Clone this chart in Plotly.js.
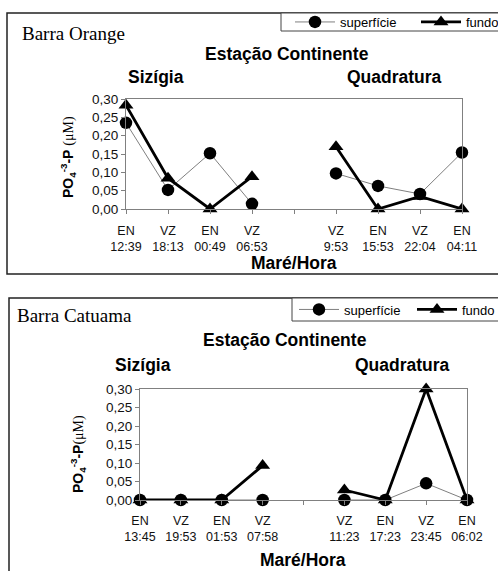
<!DOCTYPE html>
<html>
<head>
<meta charset="utf-8">
<script src="https://cdn.plot.ly/plotly-3.0.1.min.js"></script>
<style>html,body{margin:0;padding:0;background:#fff;}#chart{width:498px;height:571px;}</style>
</head>
<body>
<div id="chart"></div>
<script>
// ---- data ----
const topTicks = ['EN<br>12:39','VZ<br>18:13','EN<br>00:49','VZ<br>06:53','','VZ<br>9:53','EN<br>15:53','VZ<br>22:04','EN<br>04:11'];
const topSuperficie = [0.235, 0.052, 0.152, 0.014, null, 0.097, 0.063, 0.041, 0.154];
const topFundo      = [0.283, 0.084, 0.000, 0.088, null, 0.170, 0.000, 0.034, 0.000];

const botTicks = ['EN<br>13:45','VZ<br>19:53','EN<br>01:53','VZ<br>07:58','','VZ<br>11:23','EN<br>17:23','VZ<br>23:45','EN<br>06:02'];
const botSuperficie = [0, 0, 0, 0, null, 0, 0, 0.045, 0];
const botFundo      = [0, 0, 0, 0.093, null, 0.027, 0, 0.300, 0];

const seriesNames = ['superfície', 'fundo'];
const yTicks = [0, 0.05, 0.10, 0.15, 0.20, 0.25, 0.30];

// ---- helpers ----
const W = 498, H = 571;
const px = v => v / W;
const py = v => 1 - v / H;
const idx = arr => arr.map((_, i) => i);

function supTrace(x, y, xa, ya, leg) {
  return {x, y, xaxis: xa, yaxis: ya, legend: leg, name: seriesNames[0], type: 'scatter', mode: 'lines+markers',
    cliponaxis: false, connectgaps: false,
    line: {color: '#7f7f7f', width: 1},
    marker: {symbol: 'circle', size: 12.5, color: '#000'}};
}
function funTrace(x, y, xa, ya, leg) {
  return {x, y, xaxis: xa, yaxis: ya, legend: leg, name: seriesNames[1], type: 'scatter', mode: 'lines+markers',
    cliponaxis: false, connectgaps: false,
    line: {color: '#000', width: 2.8},
    marker: {symbol: 'triangle-up', size: 13, color: '#000'}};
}

const data = [
  supTrace(idx(topTicks), topSuperficie, 'x', 'y', 'legend'),
  funTrace(idx(topTicks), topFundo, 'x', 'y', 'legend'),
  supTrace(idx(botTicks), botSuperficie, 'x2', 'y2', 'legend2'),
  funTrace(idx(botTicks), botFundo, 'x2', 'y2', 'legend2')
];

function xAxis(domain, ticks, anchor, standoff) {
  return {domain, anchor, range: [0, ticks.length - 1], tickvals: idx(ticks), ticktext: ticks,
    showgrid: false, zeroline: false, showline: true, mirror: true, linecolor: '#808080', linewidth: 1,
    ticks: 'outside', ticklen: 4, tickcolor: '#808080', ticklabelstandoff: standoff,
    tickfont: {family: 'Arial, Liberation Sans, sans-serif', size: 12.5, color: '#111'}, fixedrange: true};
}
function yAxis(domain, anchor) {
  return {domain, anchor, range: [0, 0.30], tickvals: yTicks, tickformat: '.2f',
    showgrid: false, zeroline: false, showline: true, mirror: true, linecolor: '#808080', linewidth: 1,
    ticks: 'outside', ticklen: 4, tickcolor: '#808080',
    tickfont: {family: 'Arial, Liberation Sans, sans-serif', size: 13.5, color: '#111'}, fixedrange: true};
}

const bold = 'Arial, Liberation Sans, sans-serif';
function ann(text, x, y, size, opts) {
  return Object.assign({text, xref: 'paper', yref: 'paper', x: px(x), y: py(y), xanchor: 'center', yanchor: 'middle',
    showarrow: false, font: {family: bold, size, color: '#000'}}, opts || {});
}
const yTitleTop = '<b>PO</b><b><sub>4</sub></b><b><sup>-3</sup></b><b>-P</b> <span style="font-family:Liberation Serif">(μM)</span>';
const yTitleBot = '<b>PO</b><b><sub>4</sub></b><b><sup>-3</sup></b><b>-P</b><span style="font-family:Liberation Serif">(μM)</span>';

const annotations = [
  ann('Barra Orange', 20, 34, 19, {xanchor: 'left', font: {family: 'Liberation Serif, serif', size: 19, color: '#000'}}),
  ann('<b>Estação Continente</b>', 287, 54, 17.5),
  ann('<b>Sizígia</b>', 156, 77, 17.5),
  ann('<b>Quadratura</b>', 394, 77, 17.5),
  ann('<b>Maré/Hora</b>', 294, 263, 17.5),
  ann(yTitleTop, 68, 157, 14, {textangle: -90}),
  ann('Barra Catuama', 15, 315, 19, {xanchor: 'left', font: {family: 'Liberation Serif, serif', size: 19, color: '#000'}}),
  ann('<b>Estação Continente</b>', 285, 340, 17.5),
  ann('<b>Sizígia</b>', 143, 365, 17.5),
  ann('<b>Quadratura</b>', 402, 365, 17.5),
  ann('<b>Maré/Hora</b>', 303, 560, 17.5),
  ann(yTitleBot, 78, 454, 14, {textangle: -90})
];

const shapes = [
  {type: 'rect', xref: 'paper', yref: 'paper', x0: px(7), x1: px(520), y0: py(274), y1: py(13), line: {color: '#222', width: 1.5}},
  {type: 'rect', xref: 'paper', yref: 'paper', x0: px(9), x1: px(520), y0: py(620), y1: py(298), line: {color: '#222', width: 1.5}},
  // legend frames
  {type: 'rect', xref: 'paper', yref: 'paper', x0: px(281), x1: px(520), y0: py(31), y1: py(13), fillcolor: '#fff', layer: 'above', line: {color: '#444', width: 1}},
  {type: 'rect', xref: 'paper', yref: 'paper', x0: px(292), x1: px(520), y0: py(321), y1: py(298), fillcolor: '#fff', layer: 'above', line: {color: '#444', width: 1}}
];

function legendCfg(x, y, ew) {
  return {orientation: 'h', x: px(x), y: py(y), xanchor: 'left', yanchor: 'middle', bgcolor: 'rgba(0,0,0,0)',
    borderwidth: 0, itemwidth: 40, tracegroupgap: 0, entrywidth: ew, entrywidthmode: 'pixels',
    font: {family: 'Arial, Liberation Sans, sans-serif', size: 13, color: '#000'}};
}

const layout = {
  width: W, height: H, margin: {l: 0, r: 0, t: 0, b: 0, autoexpand: false}, paper_bgcolor: '#fff', plot_bgcolor: '#fff',
  separators: ',.', showlegend: true,
  xaxis: xAxis([px(126), px(462)], topTicks, 'y', 6),
  yaxis: yAxis([py(209), py(99)], 'x'),
  xaxis2: xAxis([px(140), px(467)], botTicks, 'y2', 5),
  yaxis2: yAxis([py(500), py(389)], 'x2'),
  legend: legendCfg(290, 22, 71),
  legend2: legendCfg(294, 309.5, 63),
  annotations, shapes
};

Plotly.newPlot('chart', data, layout, {staticPlot: true, displayModeBar: false});
</script>
</body>
</html>
